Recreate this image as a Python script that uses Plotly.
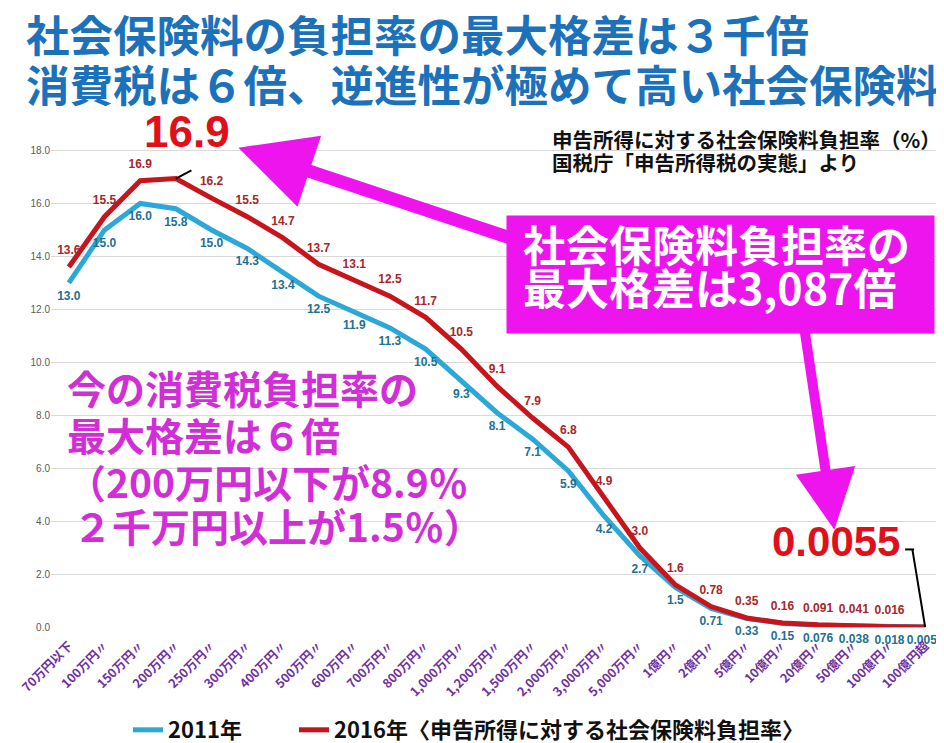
import plotly.graph_objects as go

categories = ["70万円以下", "100万円〃", "150万円〃", "200万円〃", "250万円〃", "300万円〃",
              "400万円〃", "500万円〃", "600万円〃", "700万円〃", "800万円〃", "1,000万円〃",
              "1,200万円〃", "1,500万円〃", "2,000万円〃", "3,000万円〃", "5,000万円〃",
              "1億円〃", "2億円〃", "5億円〃", "10億円〃", "20億円〃", "50億円〃",
              "100億円〃", "100億円超"]
rate_2011 = [13.0, 15.0, 16.0, 15.8, 15.0, 14.3, 13.4, 12.5, 11.9, 11.3, 10.5, 9.3, 8.1,
             7.1, 5.9, 4.2, 2.7, 1.5, 0.71, 0.33, 0.15, 0.076, 0.038, 0.018, 0.0051]
rate_2016 = [13.6, 15.5, 16.86, 16.94, 16.2, 15.5, 14.7, 13.7, 13.1, 12.5, 11.7, 10.5, 9.1,
             7.9, 6.8, 4.9, 3.0, 1.6, 0.78, 0.35, 0.16, 0.091, 0.041, 0.016, 0.0055]
callout_idx = [3, 24]


def fmt(v):
    return f"{v:.1f}" if v >= 1 else f"{v:.2g}"


labels_2011 = [fmt(v) for v in rate_2011]
labels_2016 = ["" if i in callout_idx else fmt(v) for i, v in enumerate(rate_2016)]

W, H = 944, 743
L, R, T, B = 40, 9, 116, 116
YMAX = 19


def px(x):
    return (x - L) / (W - L - R)


def py(y):
    return (H - B - y) / (H - T - B)


CJK = "Noto Sans CJK JP"
BLUE_LINE = "#2BA8D8"
RED_LINE = "#C8141B"
MAG = "#EE14EE"
CJK_DY = 10  # vertical correction for CJK line boxes

fig = go.Figure()
fig.add_trace(go.Scatter(
    x=categories, y=rate_2011, name="2011年", mode="lines",
    line=dict(color=BLUE_LINE, width=5), legend="legend",
))
fig.add_trace(go.Scatter(
    x=categories, y=rate_2016, name="2016年〈申告所得に対する社会保険料負担率〉", mode="lines",
    line=dict(color=RED_LINE, width=5), legend="legend2",
))
# data labels
fig.add_trace(go.Scatter(
    x=categories, y=rate_2011, mode="markers+text", showlegend=False, hoverinfo="skip",
    marker=dict(size=11, opacity=0),
    text=labels_2011, textposition="bottom center",
    textfont=dict(family="Liberation Sans", size=12, color="#23708F", weight="bold"),
    cliponaxis=False,
))
fig.add_trace(go.Scatter(
    x=categories, y=rate_2016, mode="markers+text", showlegend=False, hoverinfo="skip",
    marker=dict(size=14, opacity=0),
    text=labels_2016, textposition="top center",
    textfont=dict(family="Liberation Sans", size=12, color="#A8262A", weight="bold"),
    cliponaxis=False,
))

ann = []
# title
ann.append(dict(text="社会保険料の負担率の最大格差は３千倍", x=px(13), y=py(34 - CJK_DY), xref="paper", yref="paper",
                xanchor="left", yanchor="middle", showarrow=False,
                font=dict(family=CJK, size=43.5, color="#1C72BA", weight="bold")))
ann.append(dict(text="消費税は６倍、逆進性が極めて高い社会保険料", x=px(13), y=py(85 - CJK_DY), xref="paper", yref="paper",
                xanchor="left", yanchor="middle", showarrow=False,
                font=dict(family=CJK, size=43.5, color="#1C72BA", weight="bold")))
# source note
ann.append(dict(text="申告所得に対する社会保険料負担率（%）", x=px(541), y=py(141 - CJK_DY), xref="paper", yref="paper",
                xanchor="left", yanchor="middle", showarrow=False,
                font=dict(family=CJK, size=20.5, color="#111111", weight="bold")))
ann.append(dict(text="国税庁「申告所得税の実態」より", x=px(541), y=py(165 - CJK_DY), xref="paper", yref="paper",
                xanchor="left", yanchor="middle", showarrow=False,
                font=dict(family=CJK, size=20.5, color="#111111", weight="bold")))
# arrows (tip in paper coords, tail as pixel offset)
ann.append(dict(text="", x=px(228), y=py(140), ax=505 - 228, ay=232 - 140, xref="paper", yref="paper",
                axref="pixel", ayref="pixel", showarrow=True, arrowhead=2, arrowsize=1.15,
                arrowwidth=13, arrowcolor=MAG))
ann.append(dict(text="", x=px(826), y=py(528), ax=795 - 826, ay=320 - 528, xref="paper", yref="paper",
                axref="pixel", ayref="pixel", showarrow=True, arrowhead=2, arrowsize=1.2,
                arrowwidth=10, arrowcolor=MAG))
# magenta box
ann.append(dict(text=" ", x=px(497), y=py(208), xref="paper", yref="paper", xanchor="left", yanchor="top",
                showarrow=False, width=427, height=117, bgcolor=MAG, borderpad=0,
                font=dict(size=10)))
ann.append(dict(text="社会保険料負担率の", x=px(512), y=py(247 - CJK_DY), xref="paper", yref="paper",
                xanchor="left", yanchor="middle", showarrow=False,
                font=dict(family=CJK, size=43, color="white", weight="bold")))
ann.append(dict(text="最大格差は3,087倍", x=px(512), y=py(291 - CJK_DY), xref="paper", yref="paper",
                xanchor="left", yanchor="middle", showarrow=False,
                font=dict(family=CJK, size=43, color="white", weight="bold")))
# consumption tax note
note_lines = ["今の消費税負担率の", "最大格差は６倍", "（200万円以下が8.9％", "２千万円以上が1.5％）"]
note_y = [393, 441, 488, 533]
note_x = [54, 54, 54, 60]
for t, yy, xx in zip(note_lines, note_y, note_x):
    ann.append(dict(text=t, x=px(xx), y=py(yy - CJK_DY), xref="paper", yref="paper",
                    xanchor="left", yanchor="middle", showarrow=False,
                    font=dict(family=CJK, size=39, color="#D22ED8", weight="bold")))
# callouts
ann.append(dict(text=fmt(rate_2016[3]), x=px(176), y=py(124), xref="paper", yref="paper",
                xanchor="center", yanchor="middle", showarrow=False,
                font=dict(family="Liberation Sans", size=44, color="#E0101A", weight="bold")))
ann.append(dict(text="", x=categories[3], y=rate_2016[3], ax=17, ay=-9, showarrow=True,
                arrowhead=0, arrowwidth=2, arrowcolor="black"))
ann.append(dict(text=fmt(rate_2016[24]), x=px(828), y=py(540), xref="paper", yref="paper",
                xanchor="center", yanchor="middle", showarrow=False,
                font=dict(family="Liberation Sans", size=42, color="#E0101A", weight="bold")))
ann.append(dict(text="", x=categories[24], y=rate_2016[24], ax=-13, ay=-79, showarrow=True,
                arrowhead=0, arrowwidth=2, arrowcolor="black"))

shapes = [dict(type="line", xref="paper", yref="paper", x0=px(897), x1=px(906), y0=py(548), y1=py(548),
               line=dict(color="black", width=2))]

legend_font = dict(family=CJK, size=22, color="#111111", weight="bold")
fig.update_layout(
    width=W, height=H,
    margin=dict(l=L, r=R, t=T, b=B),
    paper_bgcolor="white", plot_bgcolor="white",
    annotations=ann, shapes=shapes,
    showlegend=True,
    legend=dict(orientation="h", xref="container", yref="container", x=120 / W, y=(H - 722) / H,
                xanchor="left", yanchor="middle", font=legend_font, bgcolor="rgba(0,0,0,0)"),
    legend2=dict(orientation="h", xref="container", yref="container", x=286 / W, y=(H - 722) / H,
                 xanchor="left", yanchor="middle", font=legend_font, bgcolor="rgba(0,0,0,0)"),
    xaxis=dict(type="category", range=[-0.5, 24.5], showgrid=False, showline=False, zeroline=False,
               tickangle=-45, ticks="", ticklabelstandoff=8,
               tickfont=dict(family=CJK, size=12.5, color="#7030A0", weight="bold")),
    yaxis=dict(range=[0, YMAX], tickvals=[0, 2, 4, 6, 8, 10, 12, 14, 16, 18], tickformat=".1f",
               showgrid=True, gridcolor="#D9D9D9", gridwidth=1, zeroline=False, showline=False,
               tickfont=dict(family="Liberation Sans", size=10, color="#595959")),
)

fig.write_html("out.html")
